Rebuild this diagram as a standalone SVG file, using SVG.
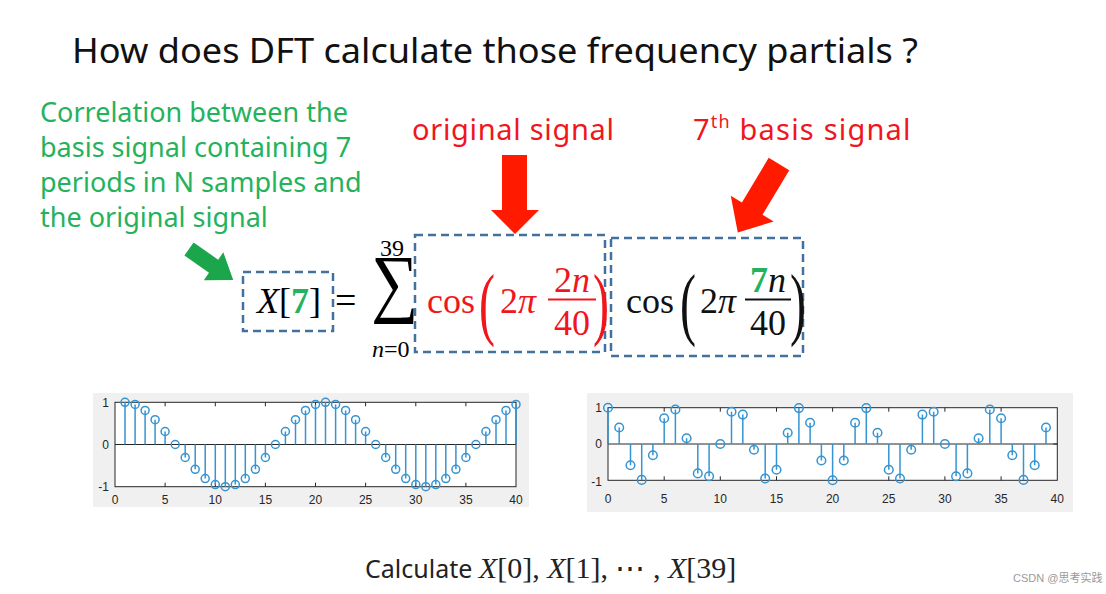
<svg xmlns="http://www.w3.org/2000/svg" width="1106" height="594" viewBox="0 0 1106 594">
<style>
.sans{font-family:"Noto Sans","Liberation Sans",sans-serif}
.math{font-family:"Liberation Serif","DejaVu Serif",serif}
.it{font-style:italic}
.grn{fill:#25b25c}
.red{fill:#f0161c}
.box{fill:none;stroke:#41719c;stroke-width:2.5;stroke-dasharray:8 5}
.bg{fill:#f0f0f0}
.ax{fill:#fff;stroke:#262626;stroke-width:1}
.zero{stroke:#262626;stroke-width:1}
.tk{stroke:#262626;stroke-width:1}
.stem{stroke:#3594d2;stroke-width:1.5;fill:none}
.mk{stroke:#3594d2;stroke-width:1.5;fill:none}
.tl{font-family:"Liberation Sans",Arial,sans-serif;font-size:12px;fill:#262626}
</style>
<rect width="1106" height="594" fill="#fff"/>

<g id="title">
<text class="sans" x="72" y="63" font-size="34" fill="#111" textLength="846" lengthAdjust="spacingAndGlyphs">How does DFT calculate those frequency partials ?</text>
</g>

<g id="green-note" class="sans grn" font-size="27">
<text x="40" y="122">Correlation between the</text>
<text x="40" y="157">basis signal containing 7</text>
<text x="40" y="192">periods in N samples and</text>
<text x="40" y="227">the original signal</text>
</g>

<g id="label-original" class="sans red" font-size="29">
<text x="412" y="140" textLength="202" lengthAdjust="spacing">original signal</text>
</g>
<g id="label-basis" class="sans red" font-size="29">
<text x="693" y="140" letter-spacing="1.2">7<tspan font-size="18" dy="-12">th</tspan><tspan dy="12"> basis signal</tspan></text>
</g>

<g id="connectors">
<polygon fill="#1ca64c" points="0,-8 30,-8 30,-17 54,0 30,17 30,8 0,8" transform="translate(189,249) rotate(35)"/>
<polygon fill="#ff1a00" points="502,155 527,155 527,210 539,210 515,234 491,210 502,210"/>
<polygon fill="#ff1a00" points="0,-12 52,-12 52,-25 80,0 52,25 52,12 0,12" transform="translate(779,164) rotate(121)"/>
</g>

<g id="box-x7">
<rect class="box" x="243" y="272" width="90" height="59"/>
<text class="math" font-size="36" x="257" y="313"><tspan class="it">X</tspan>[<tspan class="grn" font-weight="bold">7</tspan>]</text>
</g>

<g id="sum">
<text class="math" font-size="38" x="335" y="313">=</text>
<text class="math" font-size="78" x="371" y="308" transform="translate(371 308) scale(0.85 0.98) translate(-371 -308)">∑</text>
<text class="math" font-size="24" x="380" y="256">39</text>
<text class="math" font-size="24" x="372" y="357"><tspan class="it">n</tspan>=0</text>
</g>

<g id="box-original">
<rect class="box" x="415" y="235" width="190" height="117"/>
<g class="math red">
<text font-size="36" x="427" y="313">cos</text>
<text font-size="80" x="479" y="330" transform="translate(479 0) scale(0.6 1) translate(-479 0)">(</text>
<text font-size="36" x="500" y="313">2<tspan class="it">π</tspan></text>
<text font-size="36" x="572" y="292" text-anchor="middle">2<tspan class="it">n</tspan></text>
<rect x="548" y="298.5" width="48" height="2" fill="#f0161c"/>
<text font-size="36" x="572" y="335" text-anchor="middle">40</text>
<text font-size="80" x="593" y="330" transform="translate(593 0) scale(0.6 1) translate(-593 0)">)</text>
</g>
</g>

<g id="box-basis">
<rect class="box" x="611" y="238" width="192" height="118"/>
<g class="math" fill="#111">
<text font-size="36" x="626" y="313">cos</text>
<text font-size="80" x="680" y="330" transform="translate(680 0) scale(0.6 1) translate(-680 0)">(</text>
<text font-size="36" x="700" y="313">2<tspan class="it">π</tspan></text>
<text font-size="36" x="768" y="292" text-anchor="middle"><tspan class="grn" font-weight="bold">7</tspan><tspan class="it">n</tspan></text>
<rect x="745" y="298.5" width="46" height="2" fill="#111"/>
<text font-size="36" x="768" y="335" text-anchor="middle">40</text>
<text font-size="80" x="790" y="330" transform="translate(790 0) scale(0.6 1) translate(-790 0)">)</text>
</g>
</g>

<g id="plot-left">
<rect class="bg" x="93" y="393" width="436" height="114"/>
<rect class="ax" x="115" y="402.3" width="401" height="84.4"/>
<line class="zero" x1="115" y1="444.5" x2="516" y2="444.5"/>
<g class="tk">
<path d="M165.1,402.3v4M215.3,402.3v4M265.4,402.3v4M315.5,402.3v4M365.6,402.3v4M415.8,402.3v4M465.9,402.3v4M165.1,486.7v-4M215.3,486.7v-4M265.4,486.7v-4M315.5,486.7v-4M365.6,486.7v-4M415.8,486.7v-4M465.9,486.7v-4M516,444.5h-4"/>
</g>
<g class="tl" text-anchor="end">
<text x="109" y="406.5">1</text><text x="109" y="448.7">0</text><text x="109" y="491">-1</text>
</g>
<g class="tl" text-anchor="middle">
<text x="115" y="504">0</text><text x="165.1" y="504">5</text><text x="215.3" y="504">10</text><text x="265.4" y="504">15</text><text x="315.5" y="504">20</text><text x="365.6" y="504">25</text><text x="415.8" y="504">30</text><text x="465.9" y="504">35</text><text x="516" y="504">40</text>
</g>
<path class="stem" d="M125,444.5V402.3M135.1,444.5V404.4M145.1,444.5V410.4M155.1,444.5V419.7M165.1,444.5V431.5M185.2,444.5V457.5M195.2,444.5V469.3M205.2,444.5V478.6M215.3,444.5V484.6M225.3,444.5V486.7M235.3,444.5V484.6M245.3,444.5V478.6M255.4,444.5V469.3M265.4,444.5V457.5M285.4,444.5V431.5M295.5,444.5V419.7M305.5,444.5V410.4M315.5,444.5V404.4M325.5,444.5V402.3M335.6,444.5V404.4M345.6,444.5V410.4M355.6,444.5V419.7M365.6,444.5V431.5M385.7,444.5V457.5M395.7,444.5V469.3M405.7,444.5V478.6M415.8,444.5V484.6M425.8,444.5V486.7M435.8,444.5V484.6M445.8,444.5V478.6M455.9,444.5V469.3M465.9,444.5V457.5M485.9,444.5V431.5M496,444.5V419.7M506,444.5V410.4M516,444.5V404.4"/>
<g class="mk">
<circle cx="125" cy="402.3" r="4"/><circle cx="135.1" cy="404.4" r="4"/><circle cx="145.1" cy="410.4" r="4"/><circle cx="155.1" cy="419.7" r="4"/><circle cx="165.1" cy="431.5" r="4"/><circle cx="175.2" cy="444.5" r="4"/><circle cx="185.2" cy="457.5" r="4"/><circle cx="195.2" cy="469.3" r="4"/><circle cx="205.2" cy="478.6" r="4"/><circle cx="215.3" cy="484.6" r="4"/><circle cx="225.3" cy="486.7" r="4"/><circle cx="235.3" cy="484.6" r="4"/><circle cx="245.3" cy="478.6" r="4"/><circle cx="255.4" cy="469.3" r="4"/><circle cx="265.4" cy="457.5" r="4"/><circle cx="275.4" cy="444.5" r="4"/><circle cx="285.4" cy="431.5" r="4"/><circle cx="295.5" cy="419.7" r="4"/><circle cx="305.5" cy="410.4" r="4"/><circle cx="315.5" cy="404.4" r="4"/><circle cx="325.5" cy="402.3" r="4"/><circle cx="335.6" cy="404.4" r="4"/><circle cx="345.6" cy="410.4" r="4"/><circle cx="355.6" cy="419.7" r="4"/><circle cx="365.6" cy="431.5" r="4"/><circle cx="375.7" cy="444.5" r="4"/><circle cx="385.7" cy="457.5" r="4"/><circle cx="395.7" cy="469.3" r="4"/><circle cx="405.7" cy="478.6" r="4"/><circle cx="415.8" cy="484.6" r="4"/><circle cx="425.8" cy="486.7" r="4"/><circle cx="435.8" cy="484.6" r="4"/><circle cx="445.8" cy="478.6" r="4"/><circle cx="455.9" cy="469.3" r="4"/><circle cx="465.9" cy="457.5" r="4"/><circle cx="475.9" cy="444.5" r="4"/><circle cx="485.9" cy="431.5" r="4"/><circle cx="496" cy="419.7" r="4"/><circle cx="506" cy="410.4" r="4"/><circle cx="516" cy="404.4" r="4"/>
</g>
</g>

<g id="plot-right">
<rect class="bg" x="587" y="393" width="486" height="119"/>
<rect class="ax" x="608" y="407.7" width="449.3" height="72.6"/>
<line class="zero" x1="608" y1="444" x2="1057.3" y2="444"/>
<g class="tk">
<path d="M664.2,407.7v4M720.3,407.7v4M776.5,407.7v4M832.6,407.7v4M888.8,407.7v4M944.9,407.7v4M1001.1,407.7v4M664.2,480.3v-4M720.3,480.3v-4M776.5,480.3v-4M832.6,480.3v-4M888.8,480.3v-4M944.9,480.3v-4M1001.1,480.3v-4M1057.3,444h-4"/>
</g>
<g class="tl" text-anchor="end">
<text x="602" y="412">1</text><text x="602" y="448.2">0</text><text x="602" y="486">-1</text>
</g>
<g class="tl" text-anchor="middle">
<text x="608" y="503">0</text><text x="664.2" y="503">5</text><text x="720.3" y="503">10</text><text x="776.5" y="503">15</text><text x="832.6" y="503">20</text><text x="888.8" y="503">25</text><text x="944.9" y="503">30</text><text x="1001.1" y="503">35</text><text x="1057.3" y="503">40</text>
</g>
<path class="stem" d="M608,444V407.7M619.2,444V427.5M630.5,444V465.3M641.7,444V479.9M652.9,444V455.2M664.2,444V418.3M675.4,444V409.5M686.6,444V438.3M697.8,444V473.4M709.1,444V476.3M731.5,444V411.7M742.8,444V414.6M754,444V449.7M765.2,444V478.5M776.5,444V469.7M787.7,444V432.8M798.9,444V408.1M810.1,444V422.7M821.4,444V460.5M832.6,444V480.3M843.8,444V460.5M855.1,444V422.7M866.3,444V408.1M877.5,444V432.8M888.8,444V469.7M900,444V478.5M911.2,444V449.7M922.4,444V414.6M933.7,444V411.7M956.1,444V476.3M967.4,444V473.4M978.6,444V438.3M989.8,444V409.5M1001.1,444V418.3M1012.3,444V455.2M1023.5,444V479.9M1034.7,444V465.3M1046,444V427.5"/>
<g class="mk">
<circle cx="608" cy="407.7" r="4.3"/><circle cx="619.2" cy="427.5" r="4.3"/><circle cx="630.5" cy="465.3" r="4.3"/><circle cx="641.7" cy="479.9" r="4.3"/><circle cx="652.9" cy="455.2" r="4.3"/><circle cx="664.2" cy="418.3" r="4.3"/><circle cx="675.4" cy="409.5" r="4.3"/><circle cx="686.6" cy="438.3" r="4.3"/><circle cx="697.8" cy="473.4" r="4.3"/><circle cx="709.1" cy="476.3" r="4.3"/><circle cx="720.3" cy="444" r="4.3"/><circle cx="731.5" cy="411.7" r="4.3"/><circle cx="742.8" cy="414.6" r="4.3"/><circle cx="754" cy="449.7" r="4.3"/><circle cx="765.2" cy="478.5" r="4.3"/><circle cx="776.5" cy="469.7" r="4.3"/><circle cx="787.7" cy="432.8" r="4.3"/><circle cx="798.9" cy="408.1" r="4.3"/><circle cx="810.1" cy="422.7" r="4.3"/><circle cx="821.4" cy="460.5" r="4.3"/><circle cx="832.6" cy="480.3" r="4.3"/><circle cx="843.8" cy="460.5" r="4.3"/><circle cx="855.1" cy="422.7" r="4.3"/><circle cx="866.3" cy="408.1" r="4.3"/><circle cx="877.5" cy="432.8" r="4.3"/><circle cx="888.8" cy="469.7" r="4.3"/><circle cx="900" cy="478.5" r="4.3"/><circle cx="911.2" cy="449.7" r="4.3"/><circle cx="922.4" cy="414.6" r="4.3"/><circle cx="933.7" cy="411.7" r="4.3"/><circle cx="944.9" cy="444" r="4.3"/><circle cx="956.1" cy="476.3" r="4.3"/><circle cx="967.4" cy="473.4" r="4.3"/><circle cx="978.6" cy="438.3" r="4.3"/><circle cx="989.8" cy="409.5" r="4.3"/><circle cx="1001.1" cy="418.3" r="4.3"/><circle cx="1012.3" cy="455.2" r="4.3"/><circle cx="1023.5" cy="479.9" r="4.3"/><circle cx="1034.7" cy="465.3" r="4.3"/><circle cx="1046" cy="427.5" r="4.3"/>
</g>
</g>

<g id="bottom-text">
<text x="365" y="578" fill="#222"><tspan class="sans" font-size="25">Calculate </tspan><tspan class="math" font-size="30"><tspan class="it">X</tspan>[0], <tspan class="it">X</tspan>[1], ⋯ , <tspan class="it">X</tspan>[39]</tspan></text>
</g>

<g id="watermark">
<text x="1013" y="582" font-size="11" fill="#9a9a9a" font-family="Liberation Sans, Noto Sans CJK SC, sans-serif">CSDN @思考实践</text>
</g>
</svg>
